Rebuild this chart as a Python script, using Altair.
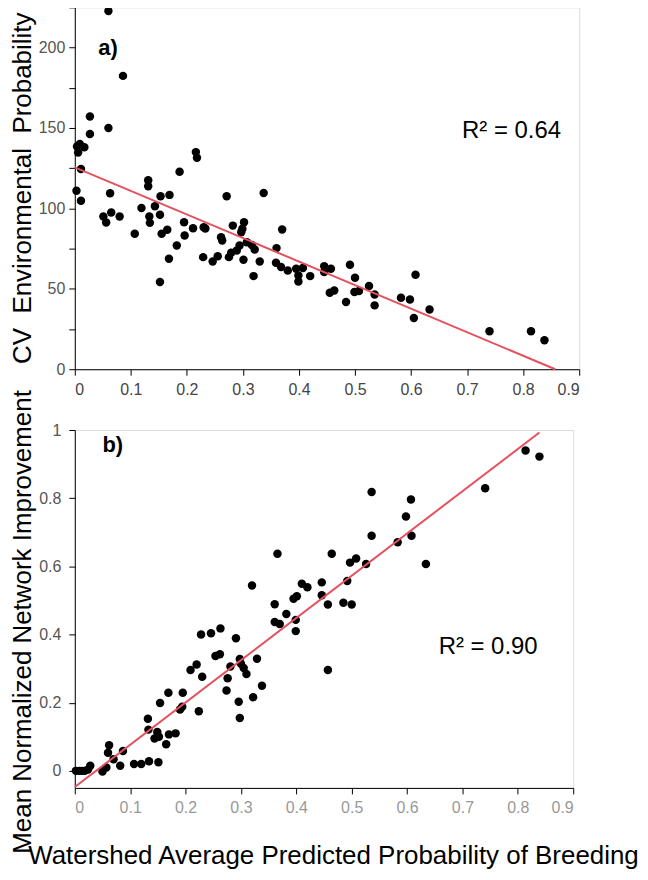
import altair as alt
import pandas as pd

# ---------- panel a: CV Environmental Probability ----------
a_x = [0.060, 0.086, 0.027, 0.027, 0.060, 0.009, 0.017, 0.006, 0.004, 0.011,
       0.003, 0.011, 0.063, 0.131, 0.131, 0.187, 0.216, 0.218, 0.153, 0.169,
       0.119, 0.143, 0.051, 0.065, 0.080, 0.056, 0.133, 0.134, 0.152, 0.107,
       0.155, 0.165, 0.168, 0.152, 0.182, 0.195, 0.196, 0.211, 0.230, 0.233,
       0.229, 0.246, 0.255, 0.261, 0.263, 0.271, 0.275, 0.279, 0.282, 0.289,
       0.294, 0.299, 0.302, 0.297, 0.301, 0.307, 0.316, 0.321, 0.319, 0.330,
       0.337, 0.360, 0.370, 0.359, 0.368, 0.380, 0.395, 0.399, 0.399, 0.407,
       0.420, 0.445, 0.457, 0.445, 0.455, 0.463, 0.484, 0.491, 0.500, 0.499,
       0.507, 0.525, 0.535, 0.535, 0.582, 0.598, 0.608, 0.605, 0.633, 0.740,
       0.814, 0.838]
a_y = [222.7, 182.4, 157.2, 146.2, 150.0, 140.0, 138.0, 134.8, 138.5, 124.5,
       111.0, 104.8, 109.4, 117.5, 113.8, 122.8, 135.0, 131.5, 107.6, 108.4,
       100.3, 101.4, 95.0, 97.5, 95.0, 91.2, 95.0, 91.0, 96.0, 84.2,
       84.2, 86.7, 68.7, 54.2, 76.9, 91.4, 83.1, 87.7, 88.3, 87.5,
       69.7, 67.0, 70.3, 82.1, 80.0, 107.6, 69.7, 72.4, 89.3, 73.8,
       76.9, 87.3, 91.4, 85.2, 68.1, 79.0, 77.3, 74.4, 57.9, 67.0,
       109.6, 75.3, 86.9, 66.2, 63.5, 61.4, 62.5, 58.3, 54.6, 62.9,
       57.9, 64.1, 62.5, 60.4, 47.6, 49.0, 41.8, 65.0, 56.9, 48.0,
       48.6, 51.7, 46.5, 39.7, 44.5, 43.4, 58.7, 31.9, 37.2, 23.6,
       23.6, 18.0]
a_intercept, a_slope = 125.5, -146.4

# ---------- panel b: Mean Normalized Network Improvement ----------
b_x = [0.002, 0.008, 0.013, 0.018, 0.024, 0.028, 0.050, 0.057, 0.062, 0.060,
       0.070, 0.087, 0.082, 0.107, 0.120, 0.134, 0.151, 0.132, 0.133, 0.149,
       0.152, 0.144, 0.154, 0.165, 0.170, 0.182, 0.169, 0.195, 0.190, 0.194,
       0.224, 0.209, 0.220, 0.230, 0.228, 0.246, 0.263, 0.254, 0.262, 0.291,
       0.274, 0.276, 0.281, 0.298, 0.300, 0.305, 0.310, 0.296, 0.298, 0.322,
       0.329, 0.338, 0.320, 0.361, 0.361, 0.370, 0.382, 0.366, 0.395, 0.401,
       0.399, 0.399, 0.410, 0.420, 0.446, 0.446, 0.457, 0.457, 0.464, 0.485,
       0.500, 0.492, 0.497, 0.508, 0.526, 0.536, 0.536, 0.583, 0.598, 0.607,
       0.608, 0.634, 0.741, 0.814, 0.839]
b_y = [0.000, 0.000, 0.000, 0.000, 0.004, 0.015, -0.002, 0.010, 0.075, 0.053,
       0.034, 0.058, 0.015, 0.020, 0.020, 0.028, 0.025, 0.153, 0.121, 0.114,
       0.100, 0.095, 0.199, 0.078, 0.107, 0.110, 0.229, 0.229, 0.180, 0.188,
       0.175, 0.296, 0.312, 0.276, 0.400, 0.404, 0.418, 0.337, 0.342, 0.389,
       0.236, 0.272, 0.306, 0.328, 0.314, 0.302, 0.284, 0.203, 0.155, 0.216,
       0.329, 0.250, 0.544, 0.489, 0.437, 0.431, 0.460, 0.637, 0.505, 0.512,
       0.443, 0.410, 0.549, 0.539, 0.553, 0.515, 0.488, 0.296, 0.637, 0.493,
       0.488, 0.557, 0.611, 0.623, 0.607, 0.818, 0.690, 0.671, 0.746, 0.796,
       0.690, 0.607, 0.829, 0.940, 0.922]
b_intercept, b_slope = -0.0475, 1.24
b_line_end = 0.839

x_ticks = [0, 0.1, 0.2, 0.3, 0.4, 0.5, 0.6, 0.7, 0.8, 0.9]
a_y_ticks = [0, 25, 50, 75, 100, 125, 150, 175, 200, 225]
b_y_ticks = [0, 0.2, 0.4, 0.6, 0.8, 1]

FONT = "Liberation Sans"
RED = "#e4505e"

a_df = pd.DataFrame({"x": a_x, "y": a_y})
b_df = pd.DataFrame({"x": b_x, "y": b_y})
a_end = -a_intercept / a_slope
a_line = pd.DataFrame({"x": [0.0, a_end], "y": [a_intercept, a_intercept + a_slope * a_end]})
b_line = pd.DataFrame({"x": [0.0, b_line_end], "y": [b_intercept, b_intercept + b_slope * b_line_end]})

def axis_common(**kw):
    base = dict(grid=False, domainColor="black", tickColor="black", tickSize=6,
                labelFont=FONT, labelFontSize=16, labelColor="#555555",
                titleFont=FONT, titleFontSize=26, titleFontWeight="normal", titleColor="black")
    base.update(kw)
    return alt.Axis(**base)

# ---- top panel ----
ax_x = alt.X("x:Q", scale=alt.Scale(domain=[0, 0.9], nice=False),
             axis=axis_common(values=x_ticks, format=".1~f", title=None, labelPadding=6, labelColor="#444444"))
ax_y = alt.Y("y:Q", scale=alt.Scale(domain=[0, 225], nice=False),
             axis=axis_common(values=a_y_ticks, labelExpr="datum.value % 50 == 0 ? datum.label : ''",
                              title="CV\u00a0\u00a0Environmental\u00a0\u00a0Probability",
                              titleAngle=270, titleX=-44.5, titleY=181, titleAlign="center",
                              titleBaseline="alphabetic", labelPadding=4))

pts_a = alt.Chart(a_df).mark_circle(size=72, color="black", opacity=1).encode(x=ax_x, y=ax_y)
line_a = alt.Chart(a_line).mark_line(color=RED, strokeWidth=2).encode(x="x:Q", y="y:Q")
lab_a = alt.Chart(pd.DataFrame({"x": [0.042], "y": [199.6], "t": ["a)"]})).mark_text(
    font=FONT, fontSize=22, fontWeight="bold", align="left", baseline="middle", color="black"
).encode(x="x:Q", y="y:Q", text="t:N")
r2_a = alt.Chart(pd.DataFrame({"x": [0.691], "y": [148.0], "t": ["R² = 0.64"]})).mark_text(
    font=FONT, fontSize=24, align="left", baseline="middle", color="black"
).encode(x="x:Q", y="y:Q", text="t:N")

top = alt.layer(pts_a, line_a, lab_a, r2_a).properties(width=506, height=363)

# ---- bottom panel ----
bx_x = alt.X("x:Q", scale=alt.Scale(domain=[0, 0.9], nice=False),
             axis=axis_common(values=x_ticks, format=".1~f", labelPadding=6, labelColor="#999999",
                              title="Watershed Average Predicted Probability of Breeding",
                              titleX=259, titleY=76, titleAlign="center", titleBaseline="alphabetic"))
bx_y = alt.Y("y:Q", scale=alt.Scale(domain=[-0.05, 1], nice=False),
             axis=axis_common(values=b_y_ticks, format=".1~f",
                              title="Mean Normalized Network Improvement",
                              titleAngle=270, titleX=-44.5, titleY=192, titleAlign="center",
                              titleBaseline="alphabetic", labelPadding=8))

pts_b = alt.Chart(b_df).mark_circle(size=72, color="black", opacity=1).encode(x=bx_x, y=bx_y)
line_b = alt.Chart(b_line).mark_line(color=RED, strokeWidth=2).encode(x="x:Q", y="y:Q")
lab_b = alt.Chart(pd.DataFrame({"x": [0.05], "y": [0.955], "t": ["b)"]})).mark_text(
    font=FONT, fontSize=22, fontWeight="bold", align="left", baseline="middle", color="black"
).encode(x="x:Q", y="y:Q", text="t:N")
r2_b = alt.Chart(pd.DataFrame({"x": [0.657], "y": [0.362], "t": ["R² = 0.90"]})).mark_text(
    font=FONT, fontSize=24, align="left", baseline="middle", color="black"
).encode(x="x:Q", y="y:Q", text="t:N")

bottom = alt.layer(pts_b, line_b, lab_b, r2_b).properties(width=500, height=359)

chart = alt.vconcat(top, bottom, spacing=61, bounds="flush").properties(
    padding={"left": 0, "top": -4, "right": 0, "bottom": 0}
).configure_view(stroke=None).configure(background="white")

chart.save("out.html", embed_options={"renderer": "svg", "actions": False})
